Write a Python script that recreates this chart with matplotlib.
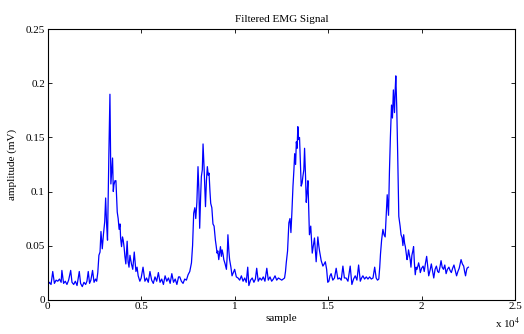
import matplotlib
matplotlib.use("Agg")
import matplotlib.pyplot as plt
from matplotlib.ticker import FuncFormatter

plt.rcParams['font.family'] = ['Liberation Serif', 'DejaVu Serif']
plt.rcParams['mathtext.fontset'] = 'stix'

# sample index and amplitude (mV)
samples = [0, 90, 180, 270, 360, 450, 540, 630, 720, 760, 850, 940, 1030, 1120, 1230, 1300, 1390, 1480, 1570, 1690,
           1760, 1850, 1940, 2030, 2100, 2170, 2240, 2310, 2400, 2480, 2560, 2620,
           2680, 2740, 2800, 2850, 2920, 2980, 3050, 3100, 3150, 3200, 3240, 3275, 3330, 3380, 3430, 3470, 3510, 3540,
           3600, 3650, 3720, 3770, 3820, 3870, 3900, 3950, 4000, 4040, 4090, 4130, 4180, 4250, 4300, 4350, 4400, 4480,
           4550, 4630, 4720, 4780, 4840, 4930, 5000, 5100, 5200, 5290, 5380, 5470, 5560, 5650, 5740, 5830, 5920, 6010,
           6100, 6190, 6280, 6370, 6460, 6550, 6640, 6730, 6820, 6910, 7000, 7065, 7150, 7240, 7330, 7420, 7510, 7600,
           7690, 7750, 7810, 7870, 7920, 7980, 8040, 8090, 8130, 8180, 8220, 8270, 8310, 8370, 8440, 8490, 8540, 8590,
           8630, 8680, 8720, 8780, 8840, 8900, 8970, 9010, 9060, 9100, 9150, 9200, 9240, 9290, 9330, 9380, 9420, 9490,
           9560, 9600, 9640, 9690, 9730, 9800, 9860, 9930, 10000, 10090, 10180, 10270, 10360, 10450, 10540, 10620,
           10700, 10760, 10850, 10940, 11030, 11110, 11180, 11260, 11350, 11440, 11530, 11620, 11720, 11800, 11890,
           11980, 12070, 12160, 12250, 12340, 12430, 12520, 12600, 12670, 12720, 12760, 12830, 12900, 12960, 13010,
           13060, 13120, 13170, 13210, 13260, 13300, 13340, 13380, 13420, 13470, 13510, 13560, 13610, 13650, 13700,
           13740, 13790, 13830, 13880, 13920, 13960, 14000, 14070, 14150, 14210, 14270, 14320, 14360, 14410, 14450,
           14500, 14540, 14630, 14720, 14790, 14850, 14920, 14980, 15040, 15100, 15160, 15250, 15340, 15430, 15520,
           15610, 15700, 15790, 15870, 15960, 16060, 16180, 16270, 16360, 16450, 16540, 16630, 16720, 16790, 16860,
           16950, 17040, 17130, 17220, 17310, 17400, 17490, 17570, 17640, 17710, 17760, 17800, 17860, 17930, 17990,
           18050, 18110, 18160, 18230, 18280, 18330, 18390, 18440, 18490, 18550, 18590, 18620, 18670, 18720, 18780,
           18850, 18900, 18960, 19000, 19040, 19090, 19130, 19180, 19220, 19260, 19300, 19340, 19390, 19430, 19480,
           19530, 19570, 19610, 19660, 19710, 19750, 19800, 19840, 19890, 19930, 20000, 20080, 20140, 20200, 20270,
           20330, 20380, 20450, 20520, 20590, 20650, 20720, 20790, 20860, 20920, 20980, 21040, 21100, 21170, 21240,
           21310, 21380, 21460, 21520, 21590, 21660, 21730, 21800, 21870, 21940, 22010, 22060, 22110, 22180, 22250,
           22300, 22350, 22400, 22430, 22500]
amplitude = [0.013, 0.016, 0.014, 0.026, 0.015, 0.018, 0.017, 0.019, 0.016, 0.027, 0.015, 0.017, 0.014, 0.018, 0.027,
             0.016, 0.014, 0.017, 0.013, 0.026, 0.015, 0.012, 0.016, 0.014, 0.017, 0.026, 0.015, 0.018, 0.027, 0.016,
             0.019, 0.017,
             0.025, 0.041, 0.044, 0.063, 0.047, 0.060, 0.072, 0.094, 0.070, 0.055, 0.100, 0.137, 0.190, 0.107, 0.120,
             0.131, 0.100, 0.106, 0.110, 0.110, 0.081, 0.075, 0.065, 0.070, 0.057, 0.049, 0.058, 0.055, 0.048, 0.040,
             0.033, 0.054, 0.035, 0.030, 0.041, 0.033, 0.028, 0.044, 0.026, 0.030, 0.022, 0.017, 0.020, 0.030, 0.017,
             0.020, 0.016, 0.026, 0.018, 0.015, 0.021, 0.017, 0.025, 0.016, 0.019, 0.014, 0.022, 0.017, 0.020, 0.015,
             0.024, 0.016, 0.019, 0.014, 0.021, 0.021, 0.017, 0.015, 0.019, 0.018, 0.023, 0.026, 0.034, 0.050, 0.080,
             0.085, 0.075, 0.090, 0.123, 0.100, 0.066, 0.095, 0.114, 0.120, 0.144, 0.120, 0.086, 0.110, 0.123, 0.115,
             0.117, 0.100, 0.089, 0.085, 0.070, 0.068, 0.055, 0.050, 0.043, 0.045, 0.037, 0.044, 0.049, 0.040, 0.046,
             0.042, 0.037, 0.033, 0.028, 0.040, 0.060, 0.045, 0.037, 0.030, 0.022, 0.025, 0.028, 0.021, 0.020, 0.018,
             0.022, 0.017, 0.020, 0.016, 0.030, 0.013, 0.018, 0.020, 0.016, 0.019, 0.029, 0.017, 0.020, 0.018, 0.021,
             0.017, 0.029, 0.018, 0.021, 0.017, 0.019, 0.022, 0.018, 0.020, 0.019, 0.018, 0.019, 0.020, 0.026, 0.034,
             0.045, 0.071, 0.075, 0.062, 0.080, 0.105, 0.120, 0.135, 0.125, 0.146, 0.140, 0.160, 0.148, 0.150, 0.130,
             0.105, 0.108, 0.114, 0.120, 0.140, 0.115, 0.090, 0.100, 0.110, 0.085, 0.060, 0.068, 0.043, 0.050, 0.057,
             0.045, 0.035, 0.048, 0.058, 0.050, 0.045, 0.036, 0.031, 0.033, 0.035, 0.028, 0.016, 0.017, 0.022, 0.024,
             0.018, 0.020, 0.029, 0.019, 0.020, 0.018, 0.031, 0.020, 0.020, 0.017, 0.031, 0.014, 0.019, 0.022, 0.018,
             0.032, 0.017, 0.020, 0.022, 0.019, 0.021, 0.019, 0.021, 0.019, 0.020, 0.030, 0.020, 0.018, 0.019, 0.030,
             0.042, 0.055, 0.065, 0.060, 0.058, 0.080, 0.097, 0.078, 0.119, 0.150, 0.180, 0.168, 0.194, 0.173, 0.195,
             0.207, 0.178, 0.135, 0.077, 0.068, 0.060, 0.057, 0.050, 0.060, 0.052, 0.049, 0.042, 0.037, 0.040, 0.046,
             0.042, 0.037, 0.030, 0.041, 0.045, 0.049, 0.035, 0.023, 0.030, 0.028, 0.031, 0.034, 0.030, 0.025, 0.029,
             0.031, 0.026, 0.033, 0.040, 0.030, 0.022, 0.027, 0.033, 0.026, 0.020, 0.028, 0.031, 0.026, 0.025, 0.030,
             0.036, 0.030, 0.028, 0.032, 0.024, 0.028, 0.030, 0.027, 0.025, 0.029, 0.032, 0.027, 0.022, 0.026, 0.029,
             0.033, 0.037, 0.033, 0.031, 0.026, 0.022, 0.027, 0.029, 0.030]

x_ticks = [0, 5000, 10000, 15000, 20000, 25000]
y_ticks = [0, 0.05, 0.10, 0.15, 0.20, 0.25]

fig = plt.figure(figsize=(5.24, 3.34), dpi=100)
ax = fig.add_axes([0.091, 0.103, 0.892, 0.809])
ax.plot(samples, amplitude, color='#0000ff', lw=0.9)
ax.set_xlim(0, 25000)
ax.set_ylim(0, 0.25)
ax.set_xticks(x_ticks)
ax.set_yticks(y_ticks)
ax.xaxis.set_major_formatter(FuncFormatter(lambda v, p: ('%g' % (v / 1e4))))
ax.yaxis.set_major_formatter(FuncFormatter(lambda v, p: ('%g' % round(v, 3))))
ax.tick_params(direction='in', top=True, right=True, labelsize=8, length=3, width=0.6, pad=2)
for s in ax.spines.values():
    s.set_linewidth(0.8)
ax.set_title('Filtered EMG Signal', fontsize=8, pad=5)
ax.set_xlabel('sample', fontsize=8, labelpad=2)
ax.set_ylabel('amplitude (mV)', fontsize=8, labelpad=6)
ax.text(0.985, -0.06, r'x 10$^4$', transform=ax.transAxes, fontsize=8, ha='center', va='top')
fig.savefig('out.png', dpi=100)
